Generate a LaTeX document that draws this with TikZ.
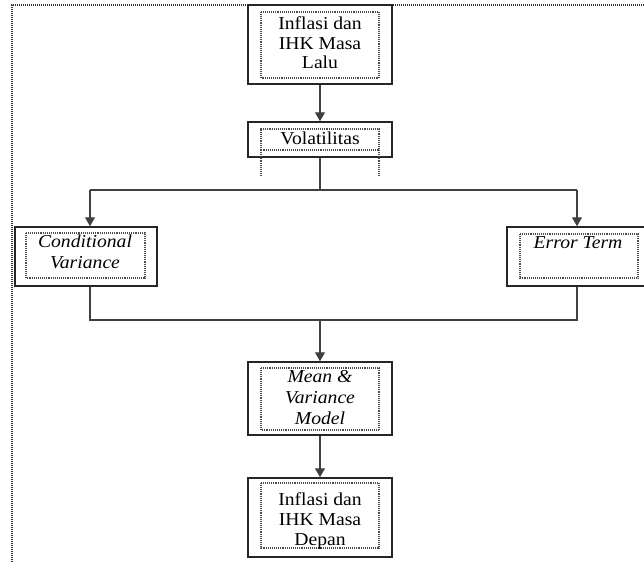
\documentclass[tikz,border=0pt]{standalone}
\usepackage{fontspec}
\setmainfont[FakeStretch=1.08]{Liberation Serif}
\usetikzlibrary{arrows.meta}
\tikzset{
  x=1pt, y=-1pt,
  outerbox/.style={draw=black!85, line width=1.5pt, fill=white, inner sep=0pt},
  innerbox/.style={draw=black!70, line width=1.1pt, dash pattern=on 1pt off 0.9pt},
  frame/.style={draw=black!80, line width=1.3pt, dash pattern=on 1pt off 1pt},
  conn/.style={draw=black!75, line width=1.2pt},
  arr/.style={conn, -{Triangle[width=10pt,length=9pt]}},
  txt/.style={anchor=base, inner sep=0pt, text=black, font=\fontsize{18.2}{20}\selectfont},
  itxt/.style={txt, font=\fontsize{18.2}{20}\selectfont\itshape}
}
\begin{document}
\begin{tikzpicture}
\useasboundingbox (0,0) rectangle (644,562);
% outer dotted frame
\draw[frame] (12,566) -- (12,5) -- (648,5);
% box 1
\node[outerbox, minimum width=144pt, minimum height=79pt] (b1) at (320,44.5) {};
\draw[innerbox] (261,12) rectangle (379,78);
\node[txt] (t1a) at (320,29) {Inflasi dan};
\node[txt] (t1b) at (320,49) {IHK Masa};
\node[txt] (t1c) at (320,68.5) {Lalu};
% box 2
\node[outerbox, minimum width=144pt, minimum height=35pt] (b2) at (320,139.5) {};
\draw[innerbox] (261,150) -- (261,129) -- (379,129) -- (379,150) -- cycle;
\draw[innerbox] (261,150) -- (261,175);
\draw[innerbox] (379,150) -- (379,175);
\node[txt] (t2) at (320,144) {Volatilitas};
% box 3
\node[outerbox, minimum width=142pt, minimum height=59pt] (b3) at (86,256.5) {};
\draw[innerbox] (26,233) rectangle (145,278);
\node[itxt] (t3a) at (85,247.5) {Conditional};
\node[itxt] (t3b) at (85,268.5) {Variance};
% box 4
\node[outerbox, minimum width=140pt, minimum height=59pt] (b4) at (577,256.5) {};
\draw[innerbox] (520,234) rectangle (638,278);
\node[itxt] (t4) at (578,248.5) {Error Term};
% box 5
\node[outerbox, minimum width=144pt, minimum height=73pt] (b5) at (320,398.5) {};
\draw[innerbox] (261,368) rectangle (379,430);
\node[itxt] (t5a) at (320,382) {Mean \&};
\node[itxt] (t5b) at (320,403) {Variance};
\node[itxt] (t5c) at (320,424) {Model};
% box 6
\node[outerbox, minimum width=144pt, minimum height=79pt] (b6) at (320,517.5) {};
\draw[innerbox] (261,483) rectangle (379,548);
\node[txt] (t6a) at (320,505) {Inflasi dan};
\node[txt] (t6b) at (320,525) {IHK Masa};
\node[txt] (t6c) at (320,545) {Depan};
% connectors
\coordinate (j1) at (320,190);
\coordinate (jl) at (90,190);
\coordinate (jr) at (577,190);
\coordinate (kl) at (90,320);
\coordinate (kr) at (577,320);
\coordinate (k) at (320,320);
\draw[arr] (b1.south) -- (b2.north);
\draw[conn] (b2.south) -- (j1);
\draw[conn] (jl) -- (jr);
\draw[arr] (jl) -- (jl |- b3.north);
\draw[arr] (jr) -- (jr |- b4.north);
\draw[conn] (kl |- b3.south) -- (kl) -- (kr) -- (kr |- b4.south);
\draw[arr] (k) -- (b5.north);
\draw[arr] (b5.south) -- (b6.north);
\end{tikzpicture}
\end{document}
